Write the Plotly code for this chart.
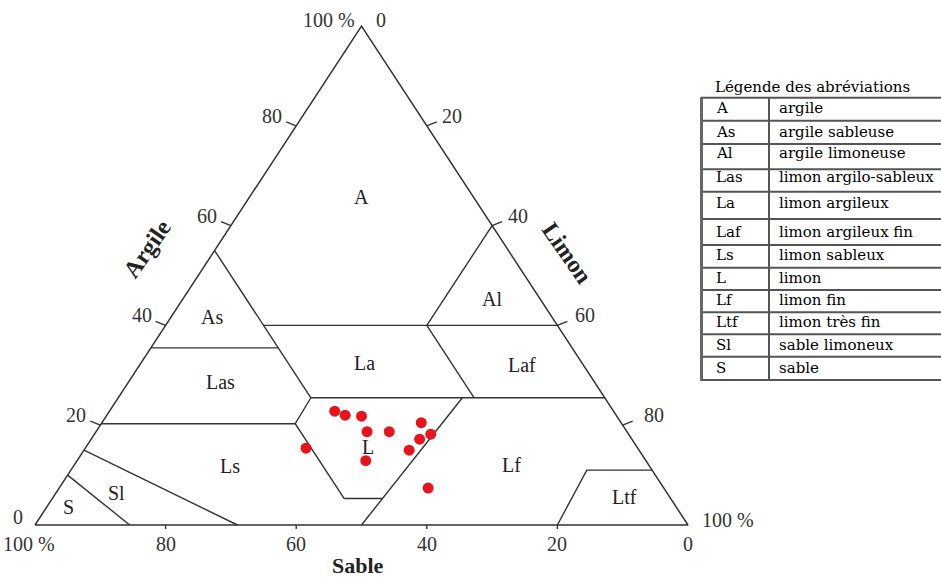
import plotly.graph_objects as go

# ---------------- data (percent) ----------------
argile = [22.8, 22.0, 21.8, 18.7, 18.7, 20.5, 18.2, 17.2, 15.0, 15.4, 12.9, 7.4]
limon = [34.5, 36.5, 39.1, 41.5, 44.9, 48.9, 51.5, 50.3, 49.8, 33.8, 44.2, 56.5]
sable = [42.7, 41.5, 39.1, 39.8, 36.4, 30.6, 30.3, 32.5, 35.2, 50.8, 42.9, 36.1]

# texture class boundaries, as (argile %, limon %) polylines
limites = [
    [(55, 0), (25.5, 29.5)],
    [(35.5, 0), (35.5, 19.5)],
    [(40, 15), (40, 60)],
    [(60, 40), (40, 40)],
    [(40, 40), (25.5, 54.5)],
    [(25.5, 29.5), (25.5, 74.5)],
    [(25.5, 29.5), (20.3, 29.7), (5.3, 44.7)],
    [(20.3, 0), (20.3, 29.7)],
    [(5.3, 44.7), (5.3, 50.56)],
    [(0, 50), (25.5, 52.7)],
    [(15, 0), (0, 31)],
    [(10, 0), (0, 14.5)],
    [(0, 80), (11, 79), (11, 89)],
]

classes = ["A", "As", "Al", "Las", "La", "Laf", "Ls", "L", "Lf", "Ltf", "Sl", "S"]
noms = ["argile", "argile sableuse", "argile limoneuse", "limon argilo-sableux",
        "limon argileux", "limon argileux fin", "limon sableux", "limon",
        "limon fin", "limon très fin", "sable limoneux", "sable"]

graduations = [20, 40, 60, 80]

# ---------------- layout helpers (pixel -> axis units) ----------------
X0, SX = 35.0, 6.53
Y0, SY = 525.0, 4.99


def px(xp):
    return (xp - X0) / SX


def py(yp):
    return (Y0 - yp) / SY


def tern(c, l):
    return l + c / 2.0, c


LINE = "#333333"
SERIF = "Liberation Serif"

fig = go.Figure()

# triangle outline
tri = [(0, 0), (0, 100), (100, 0), (0, 0)]
fig.add_trace(go.Scatter(
    x=[tern(c, l)[0] for c, l in tri], y=[tern(c, l)[1] for c, l in tri],
    mode="lines", line=dict(color=LINE, width=1.5), hoverinfo="skip"))

# class boundaries
bx, by = [], []
for seg in limites:
    for c, l in seg:
        x, y = tern(c, l)
        bx.append(x)
        by.append(y)
    bx.append(None)
    by.append(None)
fig.add_trace(go.Scatter(x=bx, y=by, mode="lines",
                         line=dict(color=LINE, width=1.4), hoverinfo="skip"))

# tick marks
tx, ty = [], []
for g in graduations:
    # Argile (left side)
    x, y = tern(g, 0)
    tx += [x, x - 10 / SX, None]
    ty += [y, y + 4 / SY, None]
    # Limon (right side)
    x, y = tern(100 - g, g)
    tx += [x, x + 10 / SX, None]
    ty += [y, y + 4 / SY, None]
    # Sable (base)
    x, y = tern(0, 100 - g)
    tx += [x, x, None]
    ty += [y, y - 4 / SY, None]
fig.add_trace(go.Scatter(x=tx, y=ty, mode="lines",
                         line=dict(color=LINE, width=1.4), hoverinfo="skip"))

# samples
fig.add_trace(go.Scatter(
    x=[l + c / 2.0 for c, l in zip(argile, limon)], y=argile,
    customdata=sable, mode="markers",
    marker=dict(color="#e8141c", size=11, line=dict(width=0)),
    hovertemplate="Argile %{y}%<br>Sable %{customdata}%<extra></extra>"))

ann = []
tick_font = dict(family=SERIF, size=20, color="#333333")

# argile ticks
for g in graduations:
    x, y = tern(g, 0)
    ann.append(dict(x=x, y=y, text=str(g), showarrow=False, xanchor="right",
                    yanchor="middle", xshift=-12, yshift=10, font=tick_font))
# limon ticks
lim_shift = {20: 13, 40: 14, 60: 16, 80: 19}
for g in graduations:
    x, y = tern(100 - g, g)
    ann.append(dict(x=x, y=y, text=str(g), showarrow=False, xanchor="left",
                    yanchor="middle", xshift=lim_shift[g], yshift=10, font=tick_font))
# sable ticks
for g in [80, 60, 40, 20, 0]:
    x, y = tern(0, 100 - g)
    ann.append(dict(x=x, y=y, text=str(g), showarrow=False, xanchor="center",
                    yanchor="middle", yshift=-18.5, font=tick_font))

# corner labels
xt, yt = tern(100, 0)
ann.append(dict(x=xt, y=yt, text="100 %", showarrow=False, xanchor="right",
                yanchor="middle", xshift=-5, yshift=6, font=tick_font))
ann.append(dict(x=xt, y=yt, text="0", showarrow=False, xanchor="left",
                yanchor="middle", xshift=12, yshift=6, font=tick_font))
xl, yl = tern(0, 0)
ann.append(dict(x=xl, y=yl, text="0", showarrow=False, xanchor="right",
                yanchor="middle", xshift=-10, yshift=8, font=tick_font))
ann.append(dict(x=xl, y=yl, text="100 %", showarrow=False, xanchor="right",
                yanchor="middle", xshift=22, yshift=-18.5, font=tick_font))
xr, yr = tern(0, 100)
ann.append(dict(x=xr, y=yr, text="100 %", showarrow=False, xanchor="left",
                yanchor="middle", xshift=12, yshift=5, font=tick_font))

# axis titles
title_font = dict(family=SERIF, size=24, color="#222222")
ann.append(dict(x=px(147), y=py(249), text="<b>Argile</b>", showarrow=False,
                textangle=-55, font=title_font))
ann.append(dict(x=px(567), y=py(253), text="<b>Limon</b>", showarrow=False,
                textangle=55, font=title_font))
ann.append(dict(x=px(357.5), y=py(565), text="<b>Sable</b>", showarrow=False,
                yanchor="middle", font=dict(family=SERIF, size=22, color="#222222")))

# region labels (pixel positions of the label centres)
etiquettes = {
    "A": (361, 197), "As": (211.7, 316.7), "Las": (220.7, 381.7),
    "La": (364, 363.3), "Al": (491.7, 299.3), "Laf": (521.7, 365),
    "L": (368.3, 447.3), "Ls": (230, 466), "Sl": (116.7, 493.3),
    "S": (68.3, 506.7), "Lf": (511.7, 465), "Ltf": (624, 497.3),
}
for k, (xp, yp) in etiquettes.items():
    ann.append(dict(x=px(xp), y=py(yp), text=k, showarrow=False,
                    font=dict(family=SERIF, size=20, color="#222222")))

# legend table
LEG = "DejaVu Serif"
leg_font = dict(family=LEG, size=15, color="#000000")
ann.append(dict(x=px(713), y=py(86.5), text="Légende des abréviations", showarrow=False,
                xanchor="left", yanchor="middle", font=leg_font))
row_lines = [97.7, 120.7, 144, 169.3, 191.7, 219, 245, 267.7, 290, 312.3, 334.3, 356.7, 380]
row_text = [108.3, 131.7, 153.3, 176.7, 203.3, 231.7, 255, 278.3, 300, 322.3, 345, 368.3]
shapes = []
for yl_ in row_lines:
    shapes.append(dict(type="line", xref="x", yref="y", x0=px(700.5), x1=px(946),
                       y0=py(yl_), y1=py(yl_), line=dict(color="#555555", width=2)))
shapes.append(dict(type="line", xref="x", yref="y", x0=px(701.5), x1=px(701.5),
                   y0=py(row_lines[0]), y1=py(row_lines[-1]),
                   line=dict(color="#666666", width=3)))
shapes.append(dict(type="line", xref="x", yref="y", x0=px(769), x1=px(769),
                   y0=py(row_lines[0]), y1=py(row_lines[-1]),
                   line=dict(color="#555555", width=2)))
for k, n, yp in zip(classes, noms, row_text):
    ann.append(dict(x=px(714), y=py(yp), text=k, showarrow=False, xanchor="left",
                    yanchor="middle", font=leg_font))
    ann.append(dict(x=px(777), y=py(yp), text=n, showarrow=False, xanchor="left",
                    yanchor="middle", font=leg_font))

fig.update_layout(
    width=941, height=577, autosize=False,
    margin=dict(l=0, r=0, t=0, b=0),
    showlegend=False,
    plot_bgcolor="white", paper_bgcolor="white",
    xaxis=dict(range=[px(0), px(941)], visible=False, fixedrange=True),
    yaxis=dict(range=[py(577), py(0)], visible=False, fixedrange=True),
    annotations=ann, shapes=shapes,
)

fig.write_html("out.html")
